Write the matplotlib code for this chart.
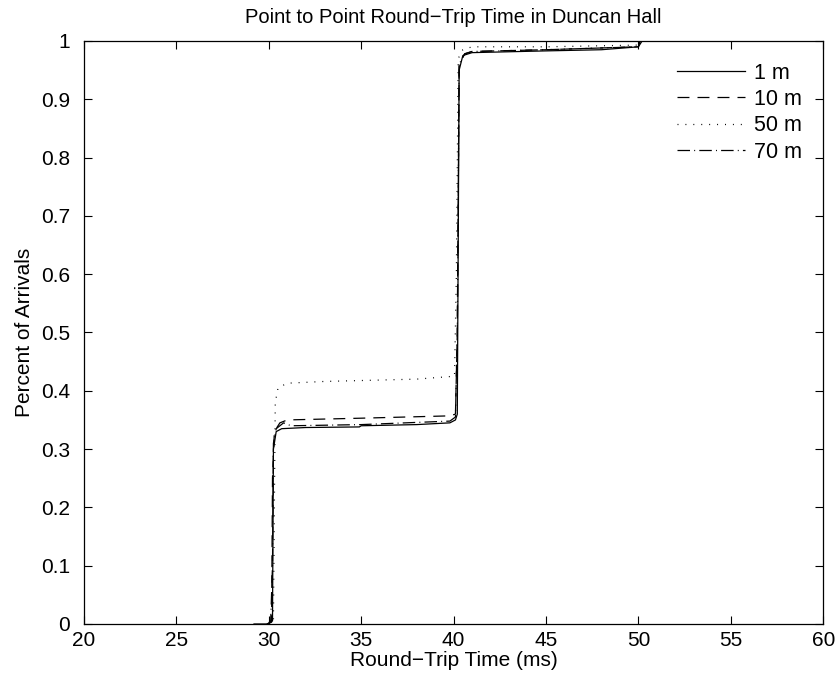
import matplotlib
matplotlib.use('Agg')
import matplotlib.pyplot as plt
import numpy as np

plt.rcParams['font.family'] = ['Liberation Sans', 'DejaVu Sans']
plt.rcParams['lines.scale_dashes'] = False

# round-trip time (ms) vs cumulative fraction
x_1m = [29.2, 30.0, 30.05, 30.2, 30.25, 30.4, 30.7, 32.0, 34.9, 35.0, 38.0, 39.8, 40.1, 40.2, 40.3, 40.5, 41.0, 45.0, 48.0, 50.0, 50.1, 50.2]
y_1m = [0.0, 0.0, 0.005, 0.005, 0.30, 0.33, 0.335, 0.337, 0.338, 0.340, 0.342, 0.345, 0.35, 0.36, 0.95, 0.975, 0.980, 0.983, 0.985, 0.99, 1.0, 1.0]

x_10m = [29.9, 30.15, 30.2, 30.3, 30.6, 31.0, 35.0, 39.8, 40.1, 40.2, 40.3, 40.6, 41.0, 45.0, 49.9, 50.1]
y_10m = [0.0, 0.003, 0.25, 0.33, 0.345, 0.350, 0.353, 0.357, 0.36, 0.50, 0.96, 0.978, 0.982, 0.985, 0.99, 1.0]

x_50m = [30.0, 30.25, 30.3, 30.35, 30.5, 31.0, 33.0, 38.0, 40.05, 40.15, 40.25, 40.5, 41.0, 45.0, 50.0, 50.2]
y_50m = [0.0, 0.003, 0.20, 0.38, 0.405, 0.413, 0.416, 0.420, 0.425, 0.60, 0.97, 0.985, 0.99, 0.99, 0.993, 1.0]

x_70m = [29.9, 30.1, 30.2, 30.25, 30.4, 30.8, 31.2, 35.0, 39.8, 40.1, 40.2, 40.3, 40.6, 41.0, 45.0, 50.0, 50.2]
y_70m = [0.0, 0.003, 0.10, 0.31, 0.335, 0.345, 0.340, 0.342, 0.348, 0.355, 0.50, 0.96, 0.978, 0.982, 0.985, 0.99, 1.0]

labels = ['1 m', '10 m', '50 m', '70 m']
styles = ['-', (0, (8.6, 5.8)), (0, (0.7, 5.0)), (0, (9.0, 3.0, 0.7, 3.0))]

fig = plt.figure(figsize=(8.4, 6.83), dpi=100)
ax = fig.add_axes([0.1, 0.0864, 0.88, 0.8536])

series = [(x_1m, y_1m), (x_10m, y_10m), (x_50m, y_50m), (x_70m, y_70m)]
for (xs, ys), lab, ls in zip(series, labels, styles):
    ax.plot(xs, ys, color='black', linestyle=ls, linewidth=0.9, label=lab)

ax.set_xlim(20, 60)
ax.set_ylim(0, 1)
ax.set_xticks(np.arange(20, 61, 5))
ax.set_yticks(np.arange(0, 1.01, 0.1))
ax.set_yticklabels(['0', '0.1', '0.2', '0.3', '0.4', '0.5', '0.6', '0.7', '0.8', '0.9', '1'])
ax.tick_params(direction='in', top=True, right=True, labelsize=15, length=6, width=0.8)
ax.tick_params(axis='x', pad=5)
ax.tick_params(axis='y', pad=10)
for sp in ax.spines.values():
    sp.set_linewidth(0.9)

ax.set_title('Point to Point Round\u2212Trip Time in Duncan Hall', fontsize=14.5, pad=13)
ax.set_xlabel('Round\u2212Trip Time (ms)', fontsize=15, labelpad=1)
ax.set_ylabel('Percent of Arrivals', fontsize=15, labelpad=5)

ax.legend(loc='upper right', frameon=False, fontsize=15.5, handlelength=3.15,
          handletextpad=0.4, labelspacing=0.25, borderaxespad=0.6)

fig.savefig('out.png', dpi=100)
